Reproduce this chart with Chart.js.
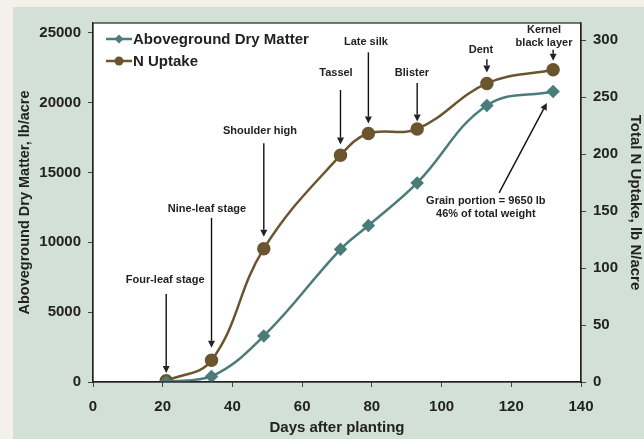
<!DOCTYPE html>
<html lang="en">
<head>
<meta charset="UTF-8">
<title>Dry Matter and N Uptake</title>
<script src="https://cdn.jsdelivr.net/npm/chart.js@4/dist/chart.umd.min.js"></script>
<style>
  body { margin: 0; background: #f4f1ea; }
  #panel { position: absolute; left: 13px; top: 7px; width: 631px; height: 432px; background: #d2e0d7; }
</style>
</head>
<body>
<div id="panel"><canvas id="chart" width="631" height="432"></canvas></div>
<script>
// days after planting
const days = [21, 34, 49, 71, 79, 93, 113, 132];
// lb/acre (left axis)
const dryMatter = [0, 400, 3300, 9500, 11200, 14250, 19800, 20800];
// lb N/acre (right axis)
const nUptake = [1, 19, 117, 199, 218, 222, 262, 274];
const xTicks = [0, 20, 40, 60, 80, 100, 120, 140];
const leftTicks = [0, 5000, 10000, 15000, 20000, 25000];
const rightTicks = [0, 50, 100, 150, 200, 250, 300];

// growth stage notes: text, text centre (day, lb/acre), arrow from/to (day, lb/acre)
const notes = [
  {text: ['Four-leaf stage'], tx: 20.7, ty: 7300, ax: 21, ay1: 6300, ax2: 21, ay2: 650},
  {text: ['Nine-leaf stage'], tx: 32.7, ty: 12400, ax: 34, ay1: 11750, ax2: 34, ay2: 2450},
  {text: ['Shoulder high'], tx: 47.9, ty: 18000, ax: 49, ay1: 17100, ax2: 49, ay2: 10400},
  {text: ['Tassel'], tx: 69.7, ty: 22130, ax: 71, ay1: 20900, ax2: 71, ay2: 17000},
  {text: ['Late silk'], tx: 78.3, ty: 24350, ax: 79, ay1: 23600, ax2: 79, ay2: 18500},
  {text: ['Blister'], tx: 91.5, ty: 22130, ax: 93, ay1: 21400, ax2: 93, ay2: 18650},
  {text: ['Dent'], tx: 111.3, ty: 23780, ax: 113, ay1: 23100, ax2: 113, ay2: 22150},
  {text: ['Kernel', 'black layer'], tx: 129.4, ty: 25210, ax: 132, ay1: 23780, ax2: 132, ay2: 23000},
  {text: ['Grain portion = 9650 lb', '46% of total weight'], tx: 112.7, ty: 12960, ax: 116.5, ay1: 13540, ax2: 130.2, ay2: 19980}
];

const FONT = "'Liberation Sans', Arial, sans-serif";
const teal = '#4b7c79';
const brown = '#6b552f';

function arrow(ctx, x1, y1, x2, y2) {
  const ang = Math.atan2(y2 - y1, x2 - x1);
  const len = 7, half = 3.5;
  const bx = x2 - Math.cos(ang) * len, by = y2 - Math.sin(ang) * len;
  ctx.beginPath();
  ctx.moveTo(x1, y1);
  ctx.lineTo(bx, by);
  ctx.stroke();
  ctx.beginPath();
  ctx.moveTo(x2, y2);
  ctx.lineTo(bx - Math.sin(ang) * half, by + Math.cos(ang) * half);
  ctx.lineTo(bx + Math.sin(ang) * half, by - Math.cos(ang) * half);
  ctx.closePath();
  ctx.fill();
}

const extras = {
  id: 'extras',
  beforeDraw(chart) {
    const a = chart.chartArea, ctx = chart.ctx;
    ctx.save();
    ctx.fillStyle = '#ffffff';
    ctx.fillRect(a.left, a.top, a.right - a.left, a.bottom - a.top);
    ctx.restore();
  },
  afterDatasetsDraw(chart) {
    const a = chart.chartArea, ctx = chart.ctx;
    const xs = chart.scales.x, ys = chart.scales.y;
    ctx.save();
    ctx.strokeStyle = '#222';
    ctx.lineWidth = 1.2;
    ctx.strokeRect(a.left, a.top, a.right - a.left, a.bottom - a.top);

    // notes
    ctx.fillStyle = '#222';
    ctx.strokeStyle = '#111';
    ctx.lineWidth = 1.4;
    ctx.font = 'bold 11px ' + FONT;
    ctx.textAlign = 'center';
    ctx.textBaseline = 'middle';
    notes.forEach(n => {
      const cx = xs.getPixelForValue(n.tx), cy = ys.getPixelForValue(n.ty);
      n.text.forEach((t, i) => ctx.fillText(t, cx, cy + i * 13));
      arrow(ctx, xs.getPixelForValue(n.ax), ys.getPixelForValue(n.ay1),
        xs.getPixelForValue(n.ax2), ys.getPixelForValue(n.ay2));
    });

    // legend inside plot
    ctx.font = 'bold 15px ' + FONT;
    ctx.textAlign = 'left';
    chart.data.datasets.forEach((ds, i) => {
      const y = a.top + 16 + i * 22;
      const x0 = a.left + 13;
      ctx.strokeStyle = ds.borderColor;
      ctx.lineWidth = 2.5;
      ctx.beginPath();
      ctx.moveTo(x0, y);
      ctx.lineTo(x0 + 26, y);
      ctx.stroke();
      ctx.fillStyle = ds.backgroundColor;
      ctx.beginPath();
      if (ds.pointStyle === 'rectRot') {
        ctx.moveTo(x0 + 13, y - 4.5); ctx.lineTo(x0 + 17.5, y);
        ctx.lineTo(x0 + 13, y + 4.5); ctx.lineTo(x0 + 8.5, y);
      } else {
        ctx.arc(x0 + 13, y, 4.5, 0, Math.PI * 2);
      }
      ctx.fill();
      ctx.fillStyle = '#222';
      ctx.fillText(ds.label, x0 + 27, y + 1);
    });
    ctx.restore();
  }
};

const tickFont = {family: FONT, size: 15, weight: 'bold'};
const titleFont = {family: FONT, size: 15, weight: 'bold'};
const plain = v => String(v);

new Chart(document.getElementById('chart'), {
  type: 'line',
  data: {
    datasets: [{
      label: 'Aboveground Dry Matter',
      data: days.map((d, i) => ({x: d, y: dryMatter[i]})),
      yAxisID: 'y',
      borderColor: teal,
      backgroundColor: teal,
      borderWidth: 2.5,
      pointStyle: 'rectRot',
      pointRadius: 5,
      tension: 0.4
    }, {
      label: 'N Uptake',
      data: days.map((d, i) => ({x: d, y: nUptake[i]})),
      yAxisID: 'y2',
      borderColor: brown,
      backgroundColor: brown,
      borderWidth: 2.5,
      pointStyle: 'circle',
      pointRadius: 5.5,
      tension: 0.4
    }]
  },
  options: {
    responsive: false,
    animation: false,
    layout: {padding: {top: 16, left: 0, right: 0, bottom: 0}},
    plugins: {legend: {display: false}, tooltip: {enabled: false}},
    scales: {
      x: {
        type: 'linear', min: 0, max: 140,
        afterBuildTicks: s => { s.ticks = xTicks.map(v => ({value: v})); },
        afterFit: s => { s.height = 57; },
        grid: {drawOnChartArea: false, tickLength: 5, color: '#444'},
        border: {color: '#222', width: 1.2},
        ticks: {font: tickFont, color: '#222', padding: 11, maxRotation: 0, autoSkip: false, callback: plain},
        title: {display: true, text: 'Days after planting', font: titleFont, color: '#222', padding: {top: 0, bottom: 2}}
      },
      y: {
        position: 'left', min: 0, max: 25700,
        afterBuildTicks: s => { s.ticks = leftTicks.map(v => ({value: v})); },
        afterFit: s => { s.width = 80; },
        grid: {drawOnChartArea: false, tickLength: 5, color: '#444'},
        border: {color: '#222', width: 1.2},
        ticks: {font: tickFont, color: '#222', padding: 7, autoSkip: false, callback: plain},
        title: {display: true, text: 'Aboveground Dry Matter, lb/acre', font: {family: FONT, size: 14.5, weight: 'bold'}, color: '#222', padding: {top: 3, bottom: 0}}
      },
      y2: {
        position: 'right', min: 0, max: 315,
        afterBuildTicks: s => { s.ticks = rightTicks.map(v => ({value: v})); },
        afterFit: s => { s.width = 63; },
        grid: {drawOnChartArea: false, tickLength: 5, color: '#444'},
        border: {color: '#222', width: 1.2},
        ticks: {font: tickFont, color: '#222', padding: 7, autoSkip: false, callback: plain},
        title: {display: true, text: 'Total N Uptake, lb N/acre', font: titleFont, color: '#222', padding: {top: 0, bottom: 0}}
      }
    }
  },
  plugins: [extras]
});
</script>
</body>
</html>
